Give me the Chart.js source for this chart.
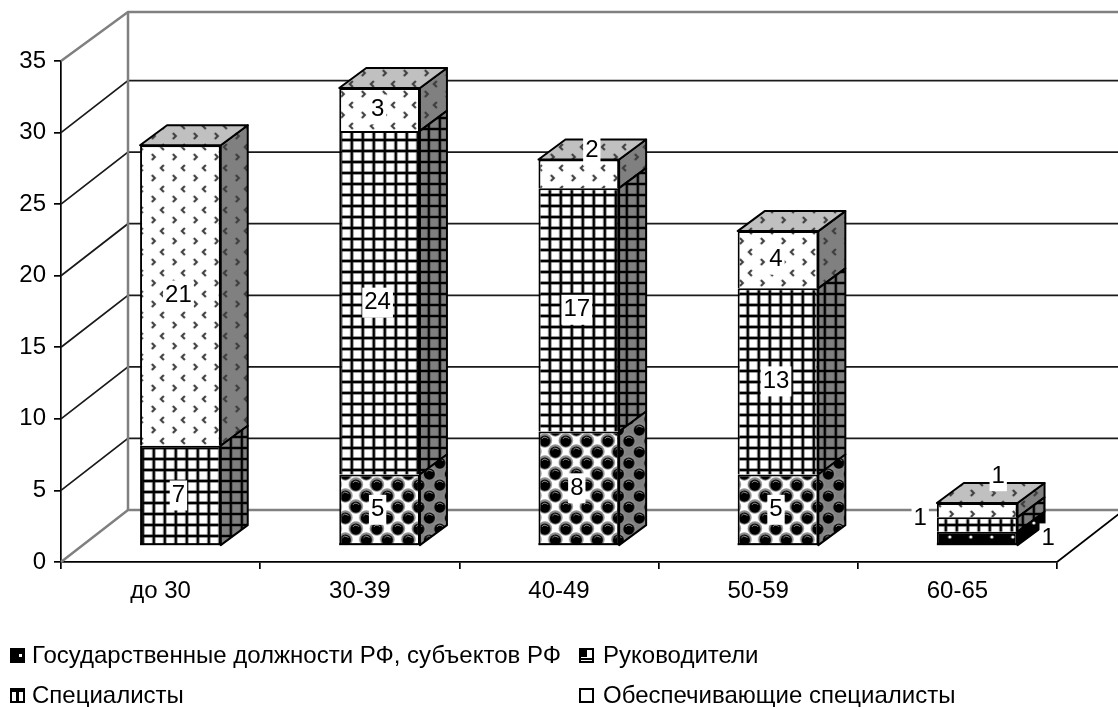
<!DOCTYPE html>
<html>
<head>
<meta charset="utf-8">
<style>
  html, body { margin: 0; padding: 0; background: #fff; }
  canvas { display: block; }
</style>
<script src="https://cdn.jsdelivr.net/npm/chart.js@4"></script>
</head>
<body>
<canvas id="chart" width="1118" height="707"></canvas>
<script>
const categories = ['до 30', '30-39', '40-49', '50-59', '60-65'];
const seriesNames = ['Государственные должности РФ, субъектов РФ', 'Руководители', 'Специалисты', 'Обеспечивающие специалисты'];
const officials = [null, null, null, null, 1];
const managers = [null, 5, 8, 5, null];
const specialists = [7, 24, 17, 13, 1];
const support = [21, 3, 2, 4, 1];
const yTicks = [0, 5, 10, 15, 20, 25, 30, 35];

const FONT = '24px "Liberation Sans"';
// 3d look: wall depth and where the bars sit inside it
const WALL_DX = 67, WALL_DY = 52, WALL_TOP_DY = 49;
const BAR_X = 19.8, BAR_Y = 16;
const DEPTH_X = 27, DEPTH_Y = 20;

// labels Excel had moved by hand: "dataset:category"
const labelShift = { '3:2': [15, -23], '0:4': [73, 0], '2:4': [-55, -6], '3:4': [23, -34] };

function tile(w, h, paint) {
    const c = document.createElement('canvas');
    c.width = w;
    c.height = h;
    paint(c.getContext('2d'));
    return c;
}

function paintDots(g) {
    g.fillStyle = '#000';
    g.fillRect(0, 0, 21, 14);
    g.fillStyle = '#fff';
    g.beginPath();
    g.arc(6, 7, 1.6, 0, Math.PI * 2);
    g.fill();
}

function paintBalls(g) {
    const centers = [[10.5, 5.5], [0, 16.5], [21, 16.5], [10.5, 27.5], [0, -5.5], [21, -5.5]];
    centers.forEach(([x, y]) => {
        g.fillStyle = '#8a8a8a';
        g.beginPath();
        g.arc(x, y, 7.2, 0, Math.PI * 2);
        g.fill();
    });
    centers.forEach(([x, y]) => {
        g.fillStyle = '#000';
        g.beginPath();
        g.arc(x, y + 0.6, 5.6, 0, Math.PI * 2);
        g.fill();
        g.strokeStyle = '#999';
        g.lineWidth = 1;
        g.beginPath();
        g.arc(x, y, 3.4, Math.PI * 1.15, Math.PI * 1.85);
        g.stroke();
    });
}

function paintGrid(g) {
    g.fillStyle = 'rgba(70,70,70,0.55)';
    g.fillRect(0, 0, 4, 11);
    g.fillRect(0, 0, 11, 4);
    g.fillStyle = '#000';
    g.fillRect(1, 0, 2, 11);
    g.fillRect(0, 1, 11, 2);
}

function paintChevrons(g) {
    g.strokeStyle = '#3c3c3c';
    g.lineWidth = 2.1;
    g.beginPath();
    g.moveTo(6, 2); g.lineTo(9, 5); g.lineTo(6, 8);
    g.moveTo(18, 13); g.lineTo(15, 16); g.lineTo(18, 19);
    g.stroke();
}

function makePattern(w, h, paint) {
    const ctx = document.createElement('canvas').getContext('2d');
    return ctx.createPattern(tile(w, h, paint), 'repeat');
}

const marks = [
    makePattern(21, 14, paintDots),
    makePattern(21, 22, paintBalls),
    makePattern(11, 11, paintGrid),
    makePattern(21, 21, paintChevrons)
];

// same marks on white, this is what the front of a bar gets
const fronts = [
    [21, 14, paintDots],
    [21, 22, paintBalls],
    [11, 11, paintGrid],
    [21, 21, paintChevrons]
].map(([w, h, paint]) => makePattern(w, h, g => {
    g.fillStyle = '#fff';
    g.fillRect(0, 0, w, h);
    paint(g);
}));

function face(ctx, pts, base, mark) {
    ctx.beginPath();
    pts.forEach((p, i) => i ? ctx.lineTo(p[0], p[1]) : ctx.moveTo(p[0], p[1]));
    ctx.closePath();
    ctx.fillStyle = base;
    ctx.fill();
    ctx.fillStyle = mark;
    ctx.fill();
    ctx.strokeStyle = '#000';
    ctx.lineWidth = 2;
    ctx.lineJoin = 'round';
    ctx.stroke();
}

function isTop(chart, dsIndex, i) {
    for (let k = dsIndex + 1; k < chart.data.datasets.length; k++) {
        if (chart.data.datasets[k].data[i] != null) return false;
    }
    return true;
}

function isBottom(chart, dsIndex, i) {
    for (let k = dsIndex - 1; k >= 0; k--) {
        if (chart.data.datasets[k].data[i] != null) return false;
    }
    return true;
}

// little legend boxes, they are too small to show the whole pattern
function swatch(ctx, i, x, y) {
    const s = 15;
    ctx.fillStyle = i === 0 ? '#000' : '#fff';
    ctx.fillRect(x, y, s, s);
    ctx.fillStyle = i === 0 ? '#fff' : '#000';
    if (i === 0) ctx.fillRect(x + 9, y + 6, 3, 3);
    if (i === 1) ctx.fillRect(x, y, 8, 9);
    if (i === 1) ctx.fillRect(x, y + 10, s, 2);
    if (i === 2) ctx.fillRect(x, y, s, 4);
    if (i === 2) ctx.fillRect(x + 6, y, 3, s);
    ctx.strokeStyle = '#000';
    ctx.lineWidth = 2;
    ctx.strokeRect(x + 1, y + 1, s - 2, s - 2);
}

const walls3d = {
    id: 'walls3d',
    beforeDatasetsDraw(chart) {
        const { ctx, scales: { x, y } } = chart;
        const left = x.left, right = x.right;
        const backLeft = left + WALL_DX;
        ctx.save();
        ctx.lineCap = 'butt';
        yTicks.forEach(v => {
            const py = y.getPixelForValue(v);
            const top = v === yTicks[yTicks.length - 1];
            const edge = v === 0 || top;
            const dy = top ? WALL_TOP_DY : WALL_DY;
            ctx.strokeStyle = edge ? '#808080' : '#1a1a1a';
            ctx.lineWidth = edge ? 2.5 : 1.7;
            ctx.beginPath();
            ctx.moveTo(left, py);
            ctx.lineTo(backLeft, py - dy);
            ctx.lineTo(1118, py - dy);
            ctx.stroke();
        });
        // back left corner
        ctx.strokeStyle = '#808080';
        ctx.lineWidth = 2.5;
        ctx.beginPath();
        ctx.moveTo(backLeft, y.getPixelForValue(35) - WALL_TOP_DY);
        ctx.lineTo(backLeft, y.getPixelForValue(0) - WALL_DY);
        ctx.stroke();
        // floor, right edge
        ctx.strokeStyle = '#000';
        ctx.lineWidth = 1.7;
        ctx.beginPath();
        ctx.moveTo(right, y.getPixelForValue(0));
        ctx.lineTo(right + WALL_DX, y.getPixelForValue(0) - WALL_DY);
        ctx.stroke();
        ctx.restore();
    },
    beforeDatasetDraw(chart, args) {
        const { ctx } = chart;
        ctx.save();
        ctx.translate(BAR_X, -BAR_Y);
        const ds = chart.data.datasets[args.index];
        args.meta.data.forEach((bar, i) => {
            if (ds.data[i] == null) return;
            const r = bar.x + bar.width / 2;
            const l = bar.x - bar.width / 2;
            face(ctx, [[r, bar.y], [r + DEPTH_X, bar.y - DEPTH_Y], [r + DEPTH_X, bar.base - DEPTH_Y], [r, bar.base]], '#808080', marks[args.index]);
            if (isTop(chart, args.index, i)) {
                face(ctx, [[l, bar.y], [l + DEPTH_X, bar.y - DEPTH_Y], [r + DEPTH_X, bar.y - DEPTH_Y], [r, bar.y]], '#c0c0c0', marks[args.index]);
            }
        });
    },
    afterDatasetDraw(chart, args) {
        const { ctx } = chart;
        // borderSkipped leaves the foot of each stack open, close it here
        const ds = chart.data.datasets[args.index];
        ctx.fillStyle = '#000';
        args.meta.data.forEach((bar, i) => {
            if (ds.data[i] == null || !isBottom(chart, args.index, i)) return;
            ctx.fillRect(bar.x - bar.width / 2, bar.base - 2, bar.width, 2);
        });
        ctx.restore();
    },
    afterDatasetsDraw(chart) {
        const { ctx } = chart;
        ctx.save();
        ctx.font = FONT;
        ctx.textAlign = 'center';
        ctx.textBaseline = 'middle';
        chart.data.datasets.forEach((ds, d) => {
            chart.getDatasetMeta(d).data.forEach((bar, i) => {
                if (ds.data[i] == null) return;
                const shift = labelShift[d + ':' + i] || [0, 0];
                const cx = bar.x + BAR_X - 2 + shift[0];
                const cy = (bar.y + bar.base) / 2 - BAR_Y + shift[1];
                const text = String(ds.data[i]);
                const w = ctx.measureText(text).width + 4;
                ctx.fillStyle = '#fff';
                ctx.fillRect(cx - w / 2, cy - 15, w, 30);
                ctx.fillStyle = '#000';
                ctx.fillText(text, cx, cy);
            });
        });
        // legend, two columns under the axis
        const cols = [10, 579], rows = [656, 696];
        ctx.textAlign = 'left';
        seriesNames.forEach((name, i) => {
            const sx = cols[i % 2], sy = rows[i >> 1];
            swatch(ctx, i, sx, sy - 8);
            ctx.fillStyle = '#000';
            ctx.fillText(name, sx + (i % 2 ? 24 : 22), sy);
        });
        ctx.restore();
    }
};

const sets = [officials, managers, specialists, support];

new Chart(document.getElementById('chart'), {
    type: 'bar',
    data: {
        labels: categories,
        datasets: sets.map((data, i) => ({
            label: seriesNames[i],
            data: data,
            backgroundColor: fronts[i],
            borderColor: '#000',
            borderWidth: 2,
            borderSkipped: 'bottom',
            clip: false
        }))
    },
    options: {
        responsive: false,
        animation: false,
        devicePixelRatio: 1,
        barPercentage: 0.405,
        categoryPercentage: 1,
        layout: { autoPadding: false, padding: { left: 0, right: 61, top: 61, bottom: 0 } },
        plugins: { legend: { display: false }, title: { display: false }, tooltip: { enabled: false } },
        scales: {
            x: {
                stacked: true,
                afterFit(s) { s.height = 145; },
                grid: { drawOnChartArea: false, color: '#000', tickLength: 7, lineWidth: 1.7 },
                border: { color: '#000', width: 1.7 },
                ticks: { color: '#000', font: { family: 'Liberation Sans', size: 24 }, padding: 8, maxRotation: 0 }
            },
            y: {
                stacked: true,
                min: 0,
                max: 35,
                afterFit(s) { s.width = 61; },
                afterBuildTicks(s) { s.ticks = yTicks.map(v => ({ value: v })); },
                grid: { drawOnChartArea: false, color: '#000', tickLength: 7, lineWidth: 1.7 },
                border: { color: '#000', width: 1.7 },
                ticks: { color: '#000', font: { family: 'Liberation Sans', size: 24 }, padding: 8 }
            }
        }
    },
    plugins: [walls3d]
});
</script>
</body>
</html>
